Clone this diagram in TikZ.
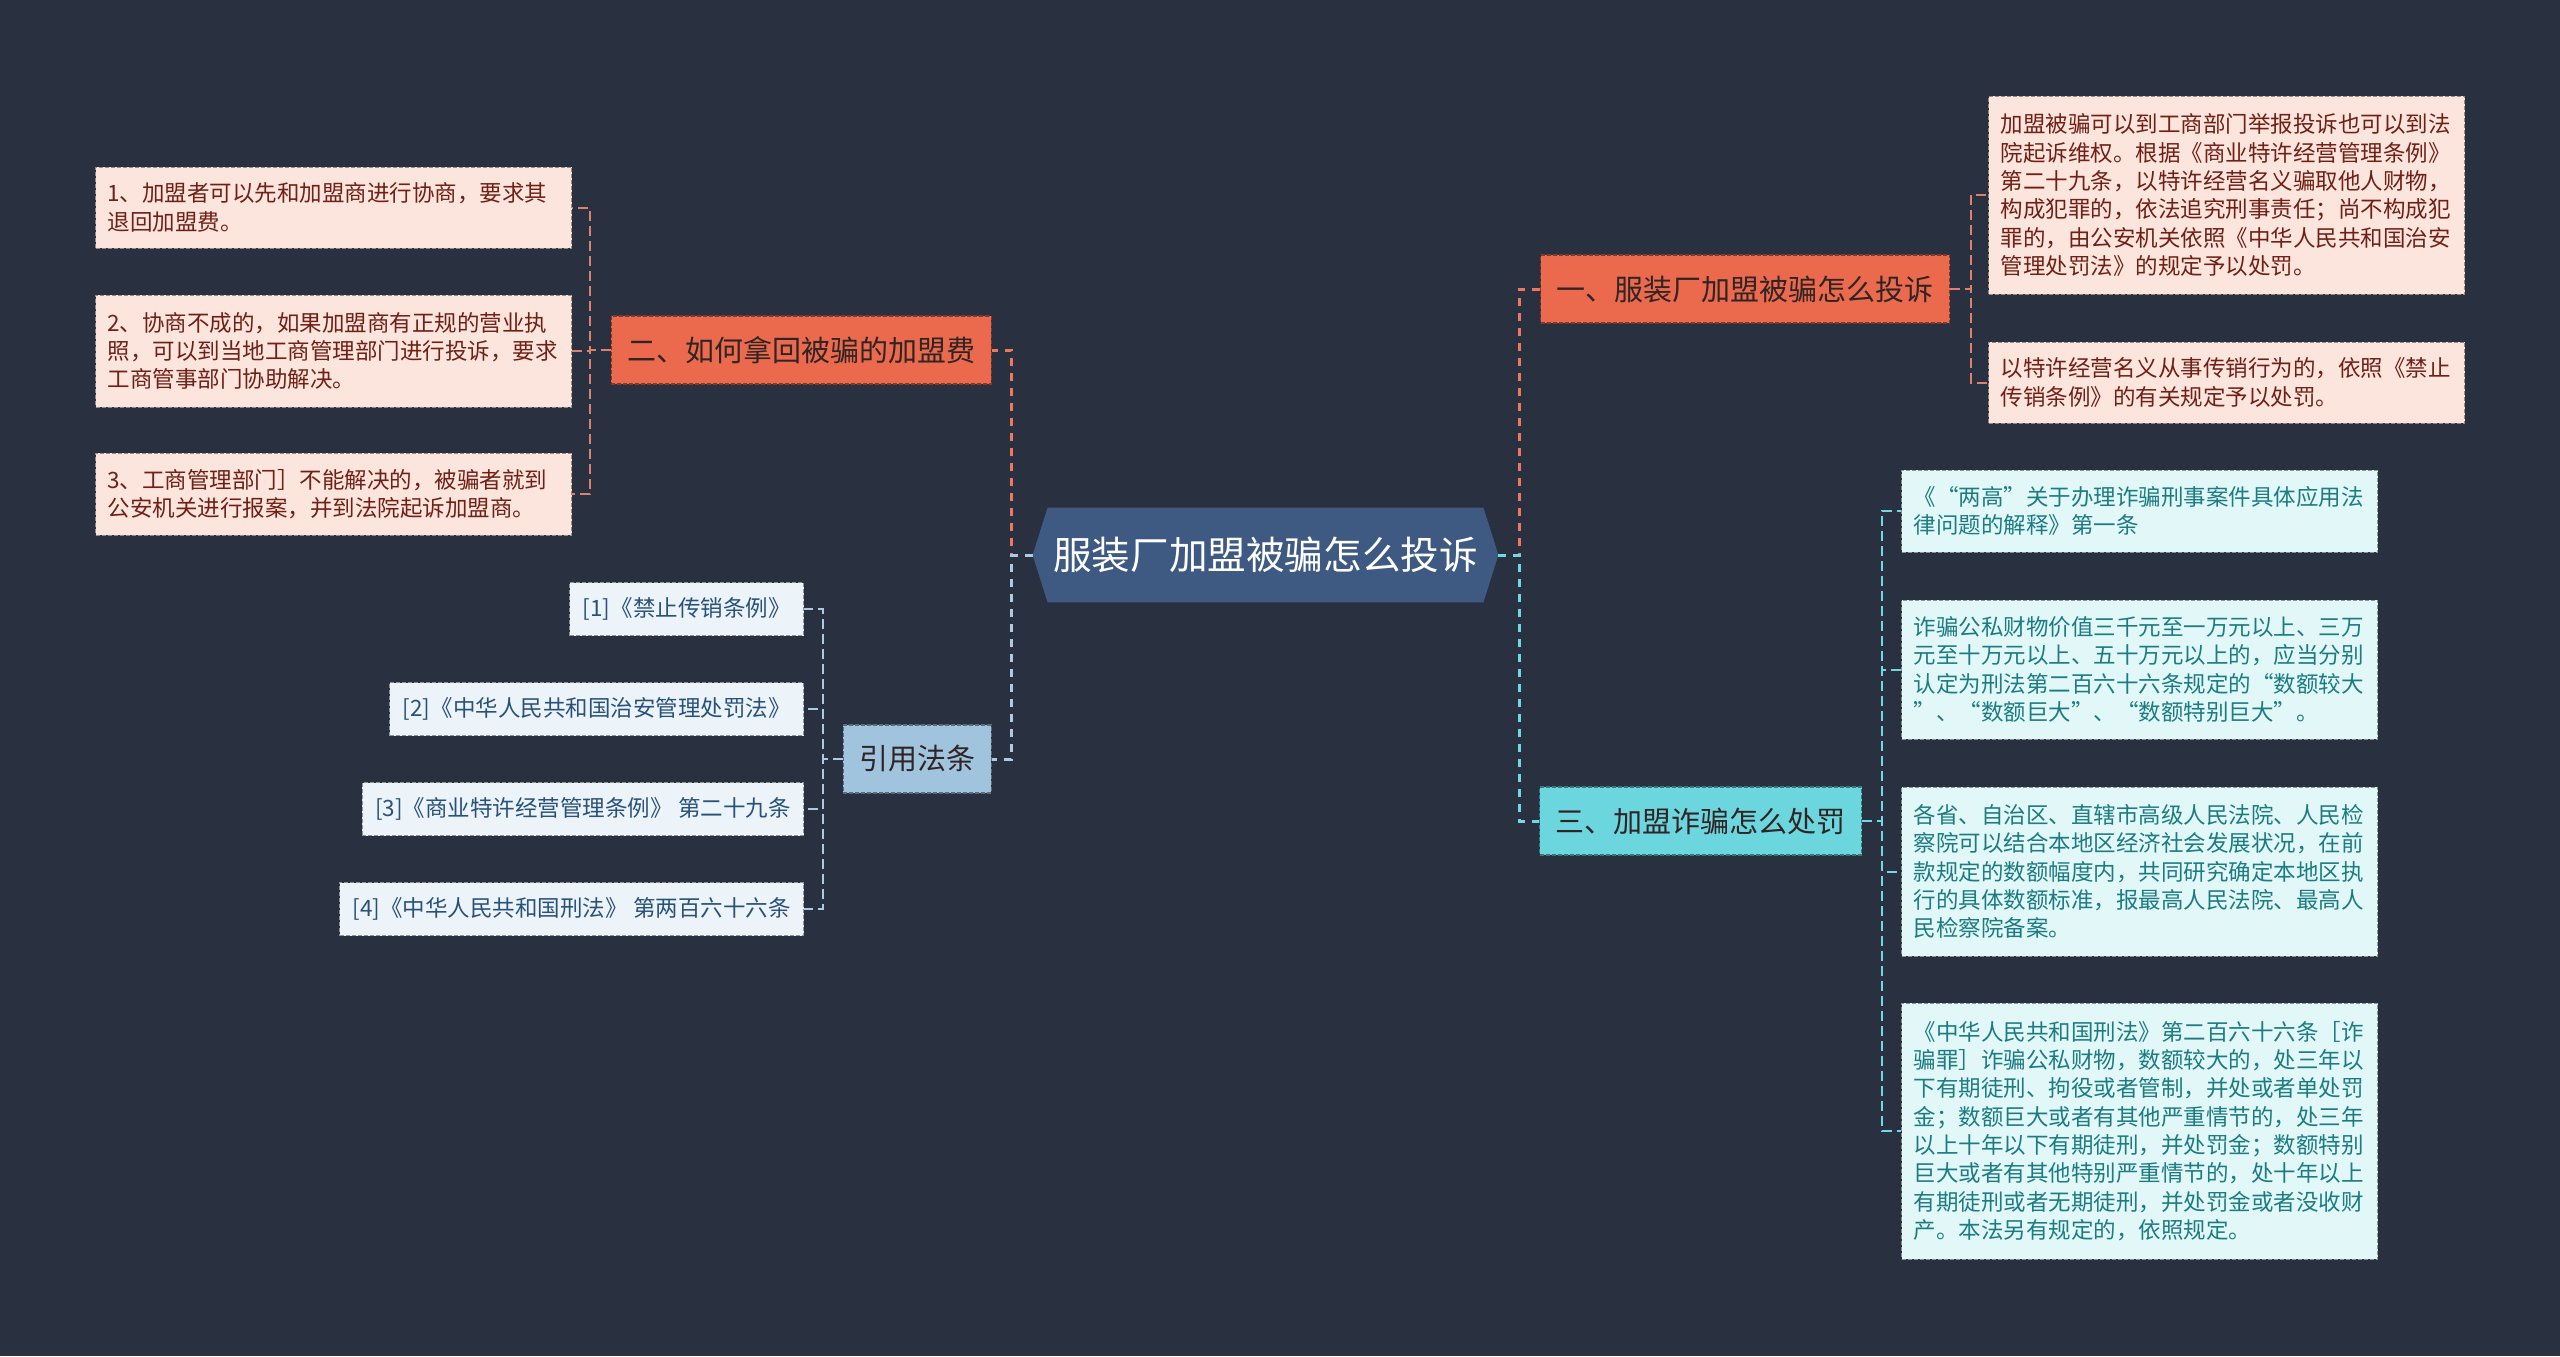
\documentclass[tikz,border=0pt]{standalone}
\usepackage{fontspec}
\setmainfont{Noto Sans CJK SC}
\usepackage{tikz}
\usetikzlibrary{positioning,calc}
\pgfdeclarelayer{bg}
\pgfdeclarelayer{background}
\pgfsetlayers{bg,background,main}
\definecolor{bgdark}{RGB}{41,49,65}
\definecolor{hubblue}{RGB}{62,90,130}
\definecolor{orangebox}{RGB}{235,106,77}
\definecolor{orangeln}{RGB}{236,120,95}
\definecolor{salmonln}{RGB}{220,130,108}
\definecolor{pinkfill}{RGB}{252,229,221}
\definecolor{pinktext}{RGB}{112,32,22}
\definecolor{cyanbox}{RGB}{108,214,222}
\definecolor{cyanln}{RGB}{112,216,226}
\definecolor{cyanfill}{RGB}{226,247,248}
\definecolor{tealtext}{RGB}{28,124,130}
\definecolor{citebox}{RGB}{160,196,222}
\definecolor{citeln}{RGB}{172,202,226}
\definecolor{citefill}{RGB}{236,243,249}
\definecolor{citetext}{RGB}{40,82,122}
\definecolor{darktext}{RGB}{48,36,36}

\begin{document}
\begin{tikzpicture}[
    x=0.5pt, y=-0.5pt,
    hub/.style={
        minimum width=217.5pt, minimum height=47pt, inner sep=0pt,
        text=white, font=\fontsize{19.3}{23}\selectfont
    },
    topic/.style={
        rectangle, draw=#1!55!black, dash pattern=on 2pt off 1pt, line width=0.6pt,
        fill=#1, text=darktext, minimum height=34pt, inner xsep=8pt,
        font=\fontsize{14.5}{17}\selectfont
    },
    leaf/.style={
        rectangle, draw=#1!60!black, dash pattern=on 2pt off 1pt, line width=0.5pt,
        fill=#1, inner xsep=6pt, inner ysep=0pt, align=left,
        font=\fontsize{11.25}{14.15}\selectfont
    },
    pinkleaf/.style={leaf=pinkfill, text=pinktext, text width=226pt},
    cyanleaf/.style={leaf=cyanfill, text=tealtext, text width=226pt},
    citeleaf/.style={leaf=citefill, text=citetext, inner xsep=6.5pt, minimum height=26.5pt},
    link1/.style={line width=1.5pt, dash pattern=on 4pt off 3.5pt},
    link2/.style={line width=1pt, dash pattern=on 5pt off 2.5pt}
]

% Background
\begin{pgfonlayer}{bg}
\fill[bgdark] (0,0) rectangle (2560,1356);
\end{pgfonlayer}

% Central topic
\node[hub] (hub) at (1265.5,555) {服装厂加盟被骗怎么投诉};
\coordinate (hubL) at ($(hub.west)+(-15,0)$);
\coordinate (hubR) at ($(hub.east)+(15,0)$);
\begin{pgfonlayer}{background}
\fill[hubblue] (hub.north west) -- (hub.north east) -- (hubR) -- (hub.south east)
    -- (hub.south west) -- (hubL) -- cycle;
\end{pgfonlayer}

% Main branches
\node[topic=orangebox, anchor=east] (howback) at (992,350) {二、如何拿回被骗的加盟费};
\node[topic=citebox, anchor=east] (laws) at (992,759) {引用法条};
\node[topic=orangebox, anchor=west] (complain) at (1540,289) {一、服装厂加盟被骗怎么投诉};
\node[topic=cyanbox, anchor=west] (punish) at (1539,821) {三、加盟诈骗怎么处罚};

% Left: how to get the fee back
\node[pinkleaf, minimum height=40.5pt, anchor=east] (back1) at (572,207.5)
    {1、加盟者可以先和加盟商进行协商，要求其\\退回加盟费。};
\node[pinkleaf, minimum height=56pt, anchor=east] (back2) at (572,351)
    {2、协商不成的，如果加盟商有正规的营业执\\照，可以到当地工商管理部门进行投诉，要求\\工商管事部门协助解决。};
\node[pinkleaf, minimum height=41pt, anchor=east] (back3) at (572,494)
    {3、工商管理部门］不能解决的，被骗者就到\\公安机关进行报案，并到法院起诉加盟商。};

% Left: cited laws
\node[citeleaf, anchor=east] (ref1) at (804,609) {[1]《禁止传销条例》};
\node[citeleaf, anchor=east] (ref2) at (804,709) {[2]《中华人民共和国治安管理处罚法》};
\node[citeleaf, anchor=east] (ref3) at (804,809) {[3]《商业特许经营管理条例》 第二十九条};
\node[citeleaf, anchor=east] (ref4) at (804,909) {[4]《中华人民共和国刑法》 第两百六十六条};

% Right: where to complain
\node[pinkleaf, minimum height=99pt, anchor=west] (cmp1) at (1988,195)
    {加盟被骗可以到工商部门举报投诉也可以到法\\院起诉维权。根据《商业特许经营管理条例》\\第二十九条，以特许经营名义骗取他人财物，\\构成犯罪的，依法追究刑事责任；尚不构成犯\\罪的，由公安机关依照《中华人民共和国治安\\管理处罚法》的规定予以处罚。};
\node[pinkleaf, minimum height=40.5pt, anchor=west] (cmp2) at (1988,382.5)
    {以特许经营名义从事传销行为的，依照《禁止\\传销条例》的有关规定予以处罚。};

% Right: punishment
\node[cyanleaf, minimum height=41pt, anchor=west] (pun1) at (1901,511)
    {《“两高”关于办理诈骗刑事案件具体应用法\\律问题的解释》第一条};
\node[cyanleaf, minimum height=69.5pt, anchor=west] (pun2) at (1901,669.5)
    {诈骗公私财物价值三千元至一万元以上、三万\\元至十万元以上、五十万元以上的，应当分别\\认定为刑法第二百六十六条规定的“数额较大\\”、“数额巨大”、“数额特别巨大”。};
\node[cyanleaf, minimum height=84.5pt, anchor=west] (pun3) at (1901,871.5)
    {各省、自治区、直辖市高级人民法院、人民检\\察院可以结合本地区经济社会发展状况，在前\\款规定的数额幅度内，共同研究确定本地区执\\行的具体数额标准，报最高人民法院、最高人\\民检察院备案。};
\node[cyanleaf, minimum height=128pt, anchor=west] (pun4) at (1901,1131)
    {《中华人民共和国刑法》第二百六十六条［诈\\骗罪］诈骗公私财物，数额较大的，处三年以\\下有期徒刑、拘役或者管制，并处或者单处罚\\金；数额巨大或者有其他严重情节的，处三年\\以上十年以下有期徒刑，并处罚金；数额特别\\巨大或者有其他特别严重情节的，处十年以上\\有期徒刑或者无期徒刑，并处罚金或者没收财\\产。本法另有规定的，依照规定。};

% Connectors from the central topic
\draw[link1, orangeln] (hubL) -- ++(-21,0) |- (howback.east);
\draw[link1, citeln] (hubL) -- ++(-21,0) |- (laws.east);
\draw[link1, orangeln] (hubR) -- ++(21,0) |- (complain.west);
\draw[link1, cyanln] (hubR) -- ++(21,0) |- (punish.west);

% Connectors to the leaves
\foreach \n in {back1,back2,back3}
    \draw[link2, salmonln] (howback.west) -- ++(-21,0) |- (\n.east);
\foreach \n in {ref1,ref2,ref3,ref4}
    \draw[link2, citeln] (laws.west) -- ++(-20,0) |- (\n.east);
\foreach \n in {cmp1,cmp2}
    \draw[link2, salmonln] (complain.east) -- ++(21,0) |- (\n.west);
\foreach \n in {pun1,pun2,pun3,pun4}
    \draw[link2, cyanln] (punish.east) -- ++(20,0) |- (\n.west);

\end{tikzpicture}
\end{document}
